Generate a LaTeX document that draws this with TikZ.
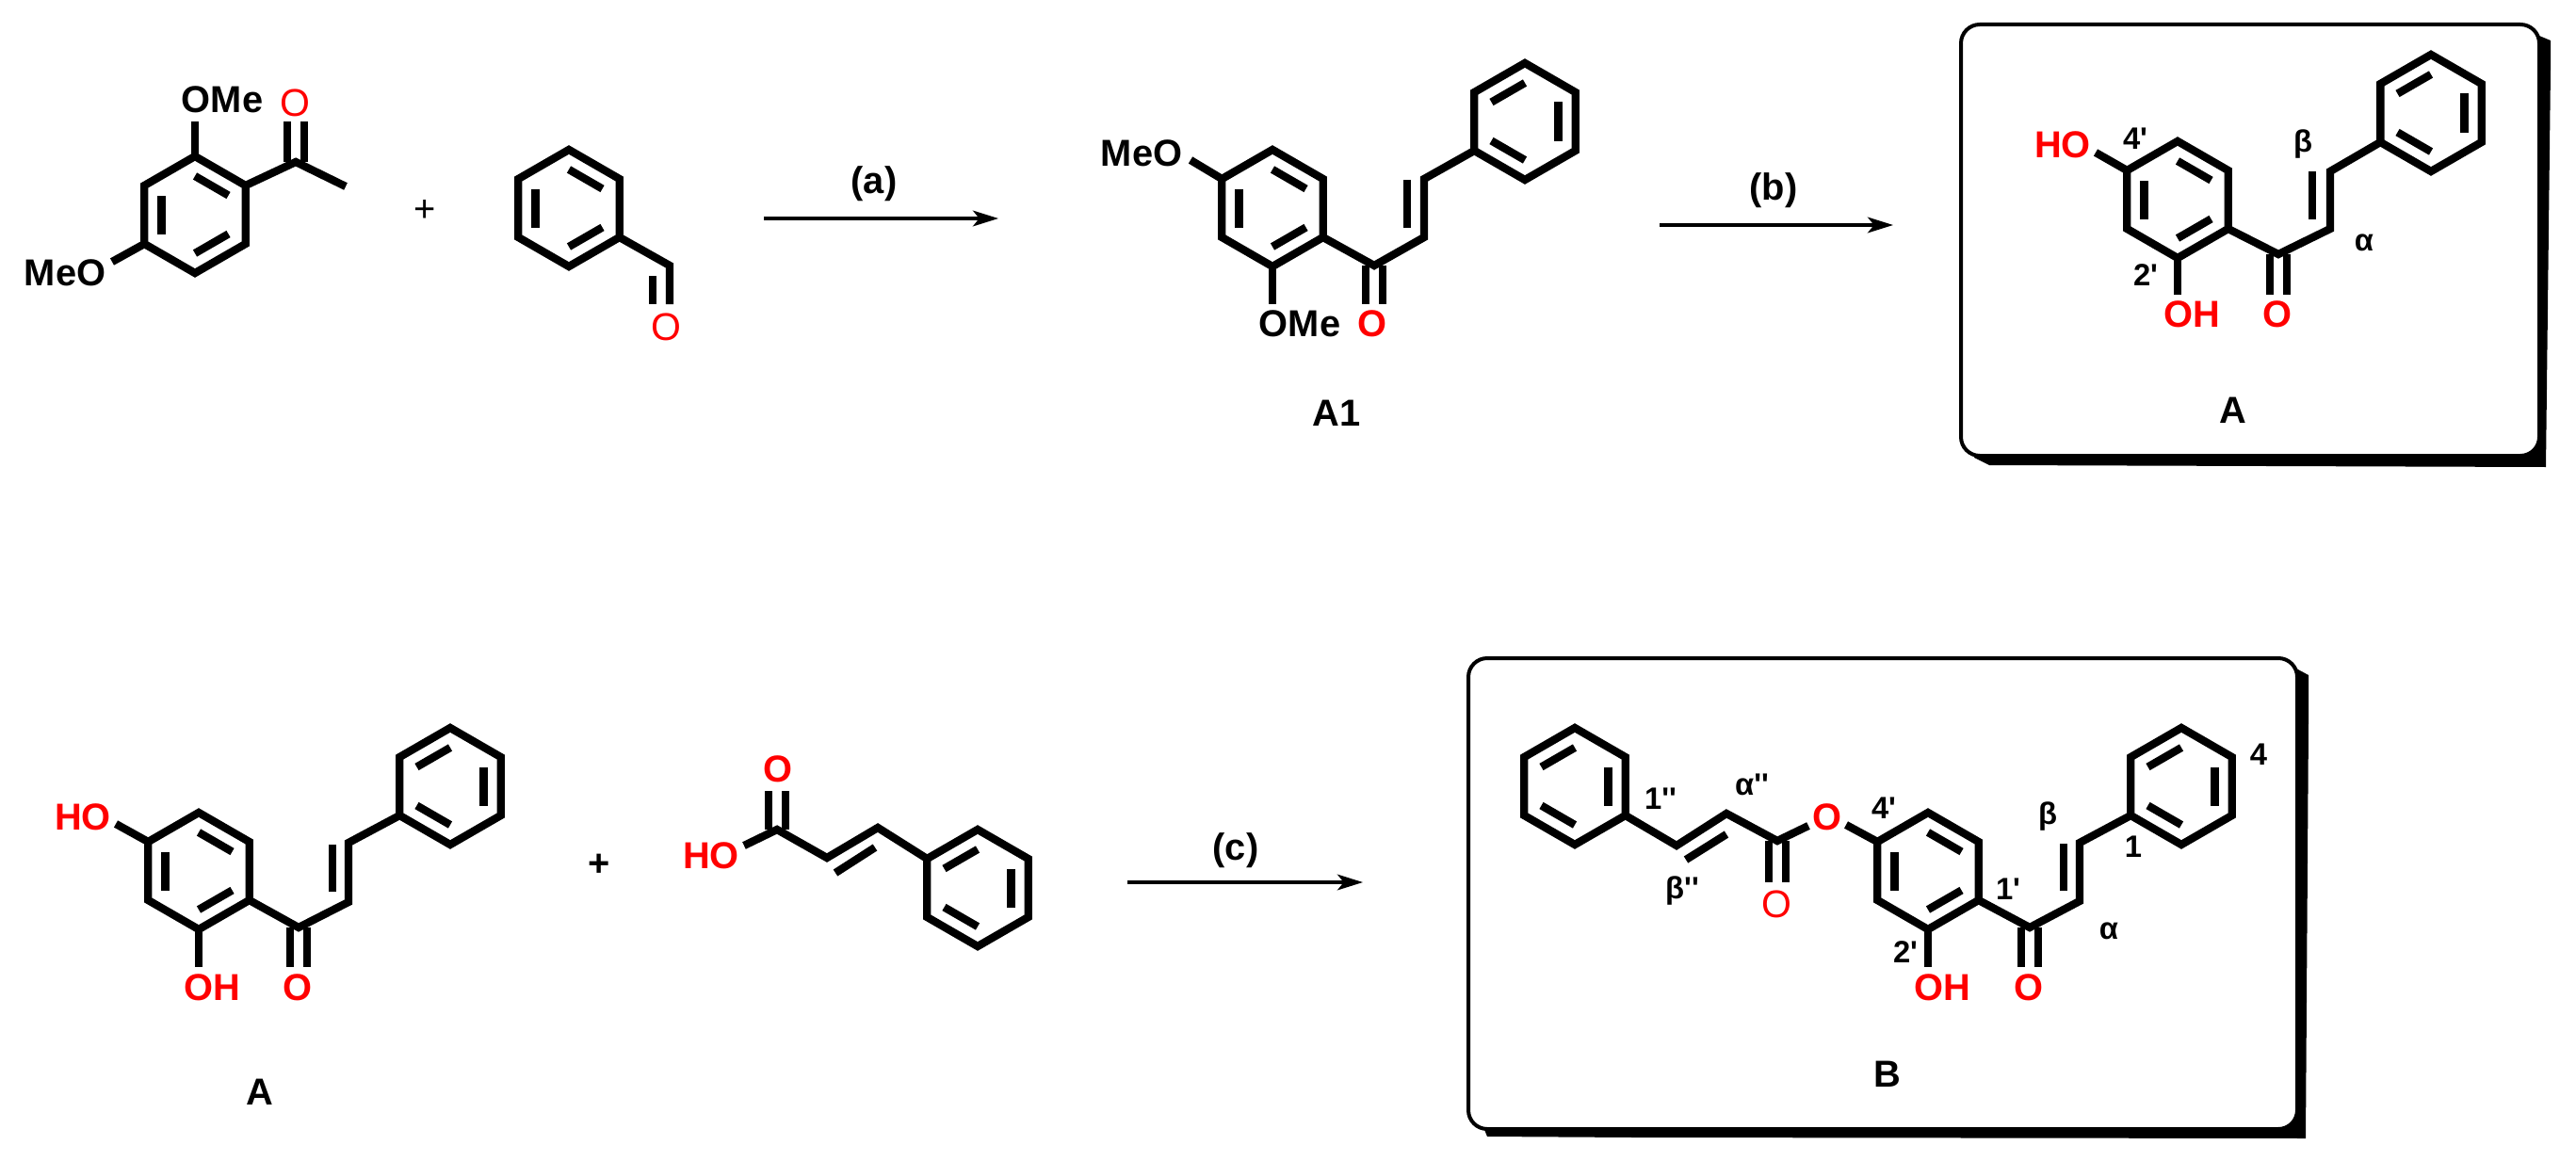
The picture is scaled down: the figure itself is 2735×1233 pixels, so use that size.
\documentclass[tikz,border=0pt]{standalone}
\usepackage{fontspec}
\setmainfont[Ligatures=TeXOff]{Liberation Sans}
\usetikzlibrary{arrows.meta}
\definecolor{hetero}{RGB}{255,0,0}
\tikzset{
  x=.03cm,y=-.03cm,
  bond/.style={line width=.25cm,line join=miter,line cap=butt,miter limit=10},
  innerbond/.style={line width=.25cm,line cap=butt},
  boxframe/.style={line width=.12cm,rounded corners=.6cm,fill=white},
  shadowbox/.style={fill=black,draw=none},
  rxn/.style={line width=.105cm,-{Stealth[length=.81cm,width=.5cm,inset=.2cm]}},
  lab/.style={inner sep=0pt,font=\fontsize{34}{36}\selectfont\bfseries},
  labred/.style={lab,text=hetero},
  thinred/.style={inner sep=0pt,text=hetero,font=\fontsize{35}{36}\selectfont},
  locant/.style={inner sep=0pt,font=\fontsize{28}{30}\selectfont\bfseries},
  plusmark/.style={inner sep=0pt,font=\fontsize{34}{36}\selectfont},
}
\newcommand\ring[4]{%
  \coordinate (#1c) at (#2,#3);
  \foreach \i/\ang in {1/90,2/30,3/-30,4/-90,5/-150,6/150}{%
    \coordinate (#1\i) at ([shift={(\ang:1.86cm)}]#1c);
    \coordinate (#1i\i) at ([shift={(\ang:1.23cm)}]#1c);
  }
  \draw[bond] (#11)--(#12)--(#13)--(#14)--(#15)--(#16)--cycle;
  \foreach \a/\b in {#4}{\draw[innerbond] (#1i\a)--(#1i\b);}
}
\newcommand\dbl[2]{%
  \draw[bond] ([xshift=-.27cm]#1)--([xshift=-.27cm]#2);
  \draw[bond] ([xshift=.27cm]#1)--([xshift=.27cm]#2);
}
\begin{document}
\begin{tikzpicture}
\useasboundingbox (0,0) rectangle (2735,1233);
\fill[white] (0,0) rectangle (2735,1233);

% frames
\fill[shadowbox] (2696,38)--(2708,43)--(2708,72)--(2703,496)--(2112,494)--(2096,486)--(2096,470)--(2690,470)--cycle;
\draw[boxframe] (2082,26) rectangle (2696,484);
\fill[shadowbox] (2438,710)--(2451,717)--(2451,765)--(2448,1209)--(1734,1208)--(1579,1207)--(1572,1190)--(2430,1190)--cycle;
\draw[boxframe] (1559,699) rectangle (2439,1199);

% 2,4-dimethoxyacetophenone
\ring{p}{207}{228}{1/2,5/6,3/4}
\coordinate (pC) at (314,172);
\coordinate (pMe) at (367,198);
\coordinate (pOe) at (314,129);
\coordinate (pOMeE) at (207,129);
\coordinate (pMeOE) at (119,278);
\draw[bond] (p2)--(pC)--(pMe);
\dbl{pC}{pOe}
\draw[bond] (p1)--(pOMeE);
\draw[bond] (p5)--(pMeOE);
\node[thinred] (pO) at (313,109) {O};
\node[lab] (pOMe) at (236,106) {OMe};
\node[lab] (pMeO) at (69,290) {MeO};
\node[plusmark] (plus1) at (451,224) {+};

% benzaldehyde
\ring{q}{604}{221}{1/2,5/6,3/4}
\coordinate (qC) at (711,282);
\coordinate (qE) at (711,323);
\coordinate (qS) at (693,293);
\coordinate (qSE) at (693,323);
\draw[bond] (q3)--(qC)--(qE);
\draw[bond] (qS)--(qSE);
\node[thinred] (qO) at (707,347) {O};

% arrow a
\coordinate (a1) at (811,232);
\coordinate (a2) at (1060,232);
\draw[rxn] (a1)--(a2);
\node[lab] (la) at (928,195) {(a)};

% A1
\ring{r}{1351}{221}{1/2,5/6,3/4}
\ring{s}{1619}{129}{6/1,2/3,4/5}
\coordinate (rC) at (1459,282);
\coordinate (rD) at (1512,252);
\coordinate (rE) at (1512,190);
\coordinate (rI1) at (1494,191);
\coordinate (rI2) at (1494,242);
\coordinate (rOe) at (1459,323);
\coordinate (rOMeE) at (1351,323);
\coordinate (rMeOE) at (1264,170);
\draw[bond] (r3)--(rC)--(rD)--(rE)--(s5);
\draw[innerbond] (rI1)--(rI2);
\dbl{rC}{rOe}
\draw[bond] (r4)--(rOMeE);
\draw[bond] (r6)--(rMeOE);
\node[labred] (rO) at (1457,344) {O};
\node[lab] (rOMe) at (1380,344) {OMe};
\node[lab] (rMeO) at (1212,163) {MeO};
\node[lab] (lA1) at (1419,439) {A1};

% arrow b
\coordinate (b1) at (1762,239);
\coordinate (b2) at (2010,239);
\draw[rxn] (b1)--(b2);
\node[lab] (lb) at (1883,202) {(b)};

% A (boxed)
\ring{t}{2312}{212}{1/2,5/6,3/4}
\ring{u}{2581}{120}{6/1,2/3,4/5}
\coordinate (tC) at (2419,270);
\coordinate (tD) at (2474,243);
\coordinate (tE) at (2474,182);
\coordinate (tI1) at (2455,182);
\coordinate (tI2) at (2455,233);
\coordinate (tOe) at (2419,313);
\coordinate (tOHE) at (2312,313);
\coordinate (tHOE) at (2225,162);
\draw[bond] (t3)--(tC)--(tD)--(tE)--(u5);
\draw[innerbond] (tI1)--(tI2);
\dbl{tC}{tOe}
\draw[bond] (t4)--(tOHE);
\draw[bond] (t6)--(tHOE);
\node[labred] (tO) at (2418,334) {O};
\node[labred] (tOH) at (2327,334) {OH};
\node[labred] (tHO) at (2190,154) {HO};
\node[locant] (t4p) at (2267,147) {4'};
\node[locant] (t2p) at (2278,292) {2'};
\node[locant] (tb) at (2445,153) {β};
\node[locant] (ta) at (2510,258) {α};
\node[lab] (lA) at (2371,436) {A};

% A (lower left)
\ring{v}{211}{925}{1/2,5/6,3/4}
\ring{w}{478}{835}{6/1,2/3,4/5}
\coordinate (vC) at (317,985);
\coordinate (vD) at (370,958);
\coordinate (vE) at (370,895);
\coordinate (vI1) at (353,897);
\coordinate (vI2) at (353,947);
\coordinate (vOe) at (317,1027);
\coordinate (vOHE) at (211,1027);
\coordinate (vHOE) at (123,875);
\draw[bond] (v3)--(vC)--(vD)--(vE)--(w5);
\draw[innerbond] (vI1)--(vI2);
\dbl{vC}{vOe}
\draw[bond] (v4)--(vOHE);
\draw[bond] (v6)--(vHOE);
\node[labred] (vO) at (316,1049) {O};
\node[labred] (vOH) at (225,1049) {OH};
\node[labred] (vHO) at (88,868) {HO};
\node[lab] (lA2) at (276,1160) {A};
\node[lab] (plus2) at (636,919) {+};

% cinnamic acid
\ring{x}{1038}{943}{6/1,2/3,4/5}
\coordinate (xC) at (825,881);
\coordinate (xD) at (878,911);
\coordinate (xE) at (932,879);
\coordinate (xI1) at (887,927);
\coordinate (xI2) at (929,900);
\coordinate (xOe) at (825,840);
\coordinate (xHOE) at (790,898);
\draw[bond] (xHOE)--(xC)--(xD)--(xE)--(x6);
\draw[innerbond] (xI1)--(xI2);
\dbl{xC}{xOe}
\node[labred] (xO) at (826,817) {O};
\node[labred] (xHO) at (755,909) {HO};

% arrow c
\coordinate (c1) at (1197,937);
\coordinate (c2) at (1447,937);
\draw[rxn] (c1)--(c2);
\node[lab] (lc) at (1312,903) {(c)};

% B
\ring{y}{1672}{835}{6/1,2/3,4/5}
\ring{z}{2047}{925}{1/2,5/6,3/4}
\ring{o}{2316}{835}{6/1,2/3,4/5}
\coordinate (yA) at (1780,898);
\coordinate (yB) at (1833,864);
\coordinate (yC) at (1887,893);
\coordinate (yI1) at (1790,913);
\coordinate (yI2) at (1833,886);
\coordinate (yOe) at (1887,937);
\coordinate (yOs) at (1920,877);
\coordinate (yOt) at (1960,876);
\draw[bond] (y3)--(yA)--(yB)--(yC)--(yOs);
\draw[innerbond] (yI1)--(yI2);
\dbl{yC}{yOe}
\draw[bond] (yOt)--(z6);
\node[thinred] (yO) at (1886,960) {O};
\node[labred] (yO2) at (1940,868) {O};
\coordinate (zC) at (2155,985);
\coordinate (zD) at (2208,957);
\coordinate (zE) at (2208,895);
\coordinate (zI1) at (2191,896);
\coordinate (zI2) at (2191,946);
\coordinate (zOe) at (2155,1027);
\coordinate (zOHE) at (2047,1027);
\draw[bond] (z3)--(zC)--(zD)--(zE)--(o5);
\draw[innerbond] (zI1)--(zI2);
\dbl{zC}{zOe}
\draw[bond] (z4)--(zOHE);
\node[labred] (zO) at (2154,1049) {O};
\node[labred] (zOH) at (2062,1049) {OH};
\node[locant] (y1pp) at (1763,848) {1''};
\node[locant] (yapp) at (1860,833) {α''};
\node[locant] (ybpp) at (1786,946) {β''};
\node[locant] (z4p) at (2000,858) {4'};
\node[locant] (z2p) at (2023,1011) {2'};
\node[locant] (z1p) at (2132,944) {1'};
\node[locant] (zb) at (2174,867) {β};
\node[locant] (za) at (2239,989) {α};
\node[locant] (o1) at (2265,899) {1};
\node[locant] (o4) at (2398,801) {4};
\node[lab] (lB) at (2004,1141) {B};
\end{tikzpicture}
\end{document}
